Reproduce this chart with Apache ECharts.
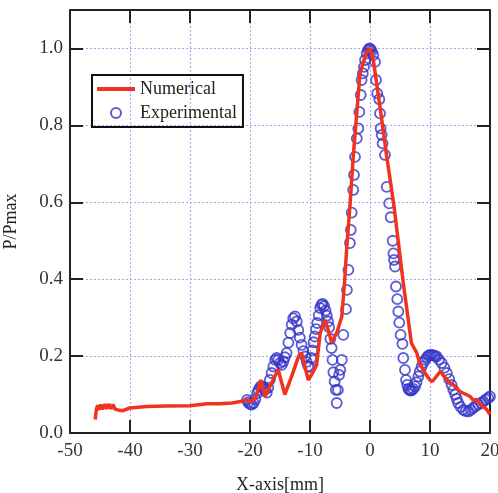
<!DOCTYPE html>
<html>
<head>
<meta charset="utf-8">
<script src="https://cdn.jsdelivr.net/npm/echarts@6.0.0/dist/echarts.min.js"></script>
<style>
  html, body { margin: 0; padding: 0; background: #fff; }
  #main { width: 498px; height: 493px; }
</style>
</head>
<body>
<div id="main"></div>
<script>
// numerical curve
var numX = [-45.8, -45.6, -45.4, -45.2, -44.9, -44.6, -44.2, -43.9, -43.5, -43.2, -42.8, -42.5, -42.0, -41.2,
  -40.0, -37.2, -34.0, -30.0, -27.2, -25.0, -23.0, -21.1, -20.5, -19.7, -19.0, -18.2, -17.5, -16.4, -15.3,
  -14.2, -13.0, -11.9, -11.4, -10.3, -9.6, -8.9, -8.3, -7.5, -7.0, -6.4, -5.5, -4.7, -4.2, -3.9, -3.3,
  -2.8, -1.67, -0.6, 0.0, 0.55, 1.67, 2.8, 4.0, 5.55, 6.9, 7.8, 8.3, 9.2, 10.0, 10.4, 11.7, 13.0, 13.9,
  15.0, 16.7, 17.2, 17.8, 18.3, 19.4, 20.0];
var numY = [0.035, 0.062, 0.072, 0.06, 0.074, 0.062, 0.075, 0.063, 0.075, 0.063, 0.074, 0.062, 0.06, 0.058,
  0.065, 0.069, 0.07, 0.071, 0.076, 0.076, 0.078, 0.083, 0.086, 0.082, 0.095, 0.138, 0.095, 0.13, 0.165,
  0.1, 0.15, 0.2, 0.208, 0.138, 0.155, 0.177, 0.26, 0.294, 0.27, 0.235, 0.262, 0.303, 0.4, 0.476, 0.6,
  0.718, 0.935, 0.99, 1.0, 0.97, 0.848, 0.718, 0.59, 0.39, 0.234, 0.208, 0.18, 0.155, 0.138, 0.134, 0.16,
  0.135, 0.125, 0.108, 0.095, 0.085, 0.087, 0.075, 0.062, 0.048];

// experimental points
var expX = [-20.5, -20.3, -20.0, -19.7, -19.4, -19.1, -18.8, -18.6, -18.3, -18.05, -17.8, -17.5, -17.2,
  -16.95, -16.7, -16.4, -16.1, -15.8, -15.55, -15.3, -15.0, -14.7, -14.45, -14.2, -13.9, -13.6, -13.3,
  -13.05, -12.8, -12.5, -12.2, -11.95, -11.7, -11.4, -11.1, -10.8, -10.55, -10.3, -10.05, -9.8, -9.6,
  -9.4, -9.2, -9.0, -8.8, -8.55, -8.3, -8.1, -7.9, -7.65, -7.4, -7.2, -7.0, -6.8, -6.6, -6.4, -6.25,
  -6.1, -5.9, -5.7, -5.55, -5.35, -5.15, -4.95, -4.7, -4.45, -4.0, -3.85, -3.6, -3.35, -3.2, -3.05,
  -2.8, -2.67, -2.5, -2.2, -1.95, -1.78, -1.55, -1.4, -1.2, -1.0, -0.83, -0.55, -0.3, -0.1, 0.1, 0.28,
  0.55, 0.83, 1.0, 1.2, 1.55, 1.67, 1.78, 1.95, 2.1, 2.5, 2.78, 3.2, 3.45, 3.78, 3.9, 4.0, 4.17, 4.33,
  4.55, 4.72, 4.88, 5.1, 5.4, 5.55, 5.83, 6.0, 6.2, 6.4, 6.55, 6.75, 6.95, 7.2, 7.5, 7.75, 8.05, 8.3,
  8.6, 8.9, 9.2, 9.5, 9.75, 10.0, 10.3, 10.6, 10.85, 11.1, 11.5, 11.95, 12.4, 12.8, 13.2, 13.6, 13.9,
  14.2, 14.45, 14.7, 15.1, 15.55, 15.95, 16.4, 16.8, 17.2, 17.6, 18.05, 18.5, 18.9, 19.3, 19.7, 20.0];
var expY = [0.086, 0.08, 0.075, 0.074, 0.078, 0.088, 0.104, 0.112, 0.12, 0.122, 0.118, 0.112, 0.105,
  0.118, 0.138, 0.156, 0.173, 0.19, 0.195, 0.19, 0.182, 0.177, 0.186, 0.197, 0.208, 0.235, 0.26,
  0.282, 0.298, 0.303, 0.29, 0.268, 0.248, 0.229, 0.213, 0.199, 0.185, 0.174, 0.172, 0.195, 0.215,
  0.236, 0.251, 0.27, 0.286, 0.306, 0.325, 0.333, 0.336, 0.33, 0.318, 0.305, 0.29, 0.275, 0.245, 0.221, 0.19,
  0.158, 0.134, 0.112, 0.078, 0.112, 0.151, 0.164, 0.19, 0.255, 0.322, 0.372, 0.424, 0.494, 0.528, 0.573,
  0.632, 0.671, 0.718, 0.766, 0.792, 0.835, 0.879, 0.918, 0.935, 0.952, 0.97, 0.987, 0.996, 1.0, 0.998, 0.993,
  0.983, 0.965, 0.918, 0.883, 0.868, 0.831, 0.792, 0.775, 0.753, 0.723, 0.64, 0.597, 0.561, 0.5, 0.467, 0.45, 0.433, 0.381,
  0.348, 0.316, 0.287, 0.255, 0.232, 0.195, 0.164, 0.138, 0.125, 0.115, 0.112, 0.11, 0.111, 0.115, 0.121, 0.132, 0.147, 0.16,
  0.173, 0.183, 0.19, 0.197, 0.201, 0.203, 0.203, 0.202, 0.2, 0.199, 0.191, 0.182, 0.17, 0.156, 0.14, 0.125, 0.112,
  0.1, 0.089, 0.078, 0.068, 0.06, 0.057, 0.056, 0.06, 0.065, 0.07, 0.074, 0.078, 0.082, 0.087, 0.091, 0.095];

var xTicks = { min: -50, max: 20, step: 10 };
var yTicks = { min: 0, max: 1.1, step: 0.2 };

function pairs(xs, ys) {
  var out = [];
  for (var i = 0; i < xs.length; i++) out.push([xs[i], ys[i]]);
  return out;
}

var font = 'Liberation Serif';
var dark = '#222';
var red = '#f0321e';
var blue = '#3434c8';
var gridDots = { show: true, lineStyle: { color: '#a4a4f0', width: 1, type: [2, 2] } };

var myChart = echarts.init(document.getElementById('main'), null, { renderer: 'canvas' });

var option = {
  animation: false,
  backgroundColor: '#fff',
  grid: { left: 70, right: 8, top: 10, bottom: 60, containLabel: false, outerBoundsMode: 'none' },
  legend: {
    left: 92, top: 75,
    orient: 'vertical',
    padding: [5, 6, 5, 5],
    itemGap: 6,
    itemWidth: 38,
    itemHeight: 10,
    borderColor: '#111',
    borderWidth: 2,
    textStyle: { fontFamily: font, fontSize: 18, color: dark },
    data: [
      { name: 'Numerical', icon: 'path://M0,0L38,0L38,4L0,4Z' },
      { name: 'Experimental' }
    ]
  },
  xAxis: [{
    type: 'value', min: xTicks.min, max: xTicks.max, interval: xTicks.step,
    name: 'X-axis[mm]', nameLocation: 'middle', nameGap: 43,
    nameTextStyle: { fontFamily: font, fontSize: 18, color: dark },
    axisLine: { show: true, onZero: false, lineStyle: { color: dark, width: 2 } },
    axisTick: { show: true, inside: true, length: 13, lineStyle: { color: dark, width: 2 } },
    axisLabel: { fontFamily: font, fontSize: 19, color: '#333', margin: 9 },
    splitLine: gridDots
  }, {
    type: 'value', position: 'top', min: xTicks.min, max: xTicks.max, interval: xTicks.step,
    axisLine: { show: true, onZero: false, lineStyle: { color: dark, width: 2 } },
    axisTick: { show: true, inside: true, length: 13, lineStyle: { color: dark, width: 2 } },
    axisLabel: { show: false },
    splitLine: { show: false }
  }],
  yAxis: [{
    type: 'value', min: yTicks.min, max: yTicks.max, interval: yTicks.step,
    name: 'P/Pmax', nameLocation: 'middle', nameGap: 50,
    nameTextStyle: { fontFamily: font, fontSize: 18, color: dark },
    axisLine: { show: true, onZero: false, lineStyle: { color: dark, width: 2 } },
    axisTick: { show: true, inside: true, length: 13, lineStyle: { color: dark, width: 2 } },
    axisLabel: {
      fontFamily: font, fontSize: 19, color: '#333', margin: 7, showMaxLabel: false,
      formatter: function (v) { return v > 1.05 ? '' : v.toFixed(1); }
    },
    splitLine: gridDots
  }, {
    type: 'value', position: 'right', min: yTicks.min, max: yTicks.max, interval: yTicks.step,
    axisLine: { show: true, onZero: false, lineStyle: { color: dark, width: 2 } },
    axisTick: { show: true, inside: true, length: 13, lineStyle: { color: dark, width: 2 } },
    axisLabel: { show: false },
    splitLine: { show: false }
  }],
  series: [{
    name: 'Numerical',
    type: 'line',
    symbol: 'none',
    lineStyle: { color: red, width: 3.5 },
    itemStyle: { color: red },
    data: pairs(numX, numY)
  }, {
    name: 'Experimental',
    type: 'scatter',
    symbol: 'circle',
    symbolSize: 10,
    itemStyle: { color: 'rgba(0,0,0,0)', borderColor: blue, borderWidth: 1.8 },
    data: pairs(expX, expY)
  }]
};

if (option && typeof option === 'object') {
  myChart.setOption(option);
}
</script>
</body>
</html>
